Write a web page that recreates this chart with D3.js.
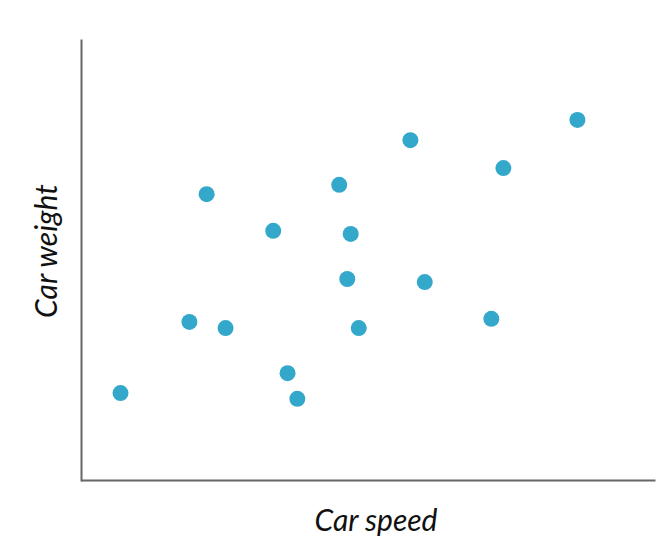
<!DOCTYPE html>
<html>
<head>
<meta charset="utf-8">
<script src="https://cdn.jsdelivr.net/npm/d3@7"></script>
<style>
  body { margin: 0; background: #fff; }
  text { font-family: Lato, "Open Sans", sans-serif; font-style: italic; }
</style>
</head>
<body>
<svg id="vis" width="662" height="552"></svg>
<script>
// car speed vs car weight (0-100 units)
let speed  = [6.8, 18.8, 21.8, 25.1, 33.4, 35.9, 37.6, 44.9, 46.3, 46.9, 48.3, 57.3, 59.8, 71.4, 73.5, 86.4];
let weight = [19.9, 36.0, 64.9, 34.6, 56.6, 24.4, 18.6, 67.0, 45.7, 55.9, 34.6, 77.1, 45.0, 36.7, 70.8, 81.7];
let xLabel = "Car speed";
let yLabel = "Car weight";

let svg = d3.select("#vis");
let x = d3.scaleLinear().domain([0, 100]).range([81, 655]);
let y = d3.scaleLinear().domain([0, 100]).range([481, 39]);

let points = speed.map((s, i) => ({ speed: s, weight: weight[i] }));

// axes: plain lines, no ticks
svg.append("g")
  .attr("transform", "translate(0,480)")
  .call(d3.axisBottom(x).tickValues([]).tickSizeOuter(0))
  .select(".domain")
  .attr("stroke", "#666")
  .attr("stroke-width", 2);

svg.append("g")
  .attr("transform", "translate(81,0)")
  .call(d3.axisLeft(y).tickValues([]).tickSizeOuter(0))
  .select(".domain")
  .attr("stroke", "#666")
  .attr("stroke-width", 2);

svg.append("g")
  .selectAll("circle")
  .data(points)
  .enter()
  .append("circle")
  .attr("cx", d => x(d.speed) + 0.5)
  .attr("cy", d => y(d.weight))
  .attr("r", 8)
  .attr("fill", "#33a8cb");

svg.append("text")
  .attr("x", 376)
  .attr("y", 531)
  .attr("text-anchor", "middle")
  .attr("font-size", 30)
  .attr("fill", "#111")
  .text(xLabel);

svg.append("text")
  .attr("transform", "translate(57,251) rotate(-90)")
  .attr("text-anchor", "middle")
  .attr("font-size", 30)
  .attr("fill", "#111")
  .text(yLabel);
</script>
</body>
</html>
